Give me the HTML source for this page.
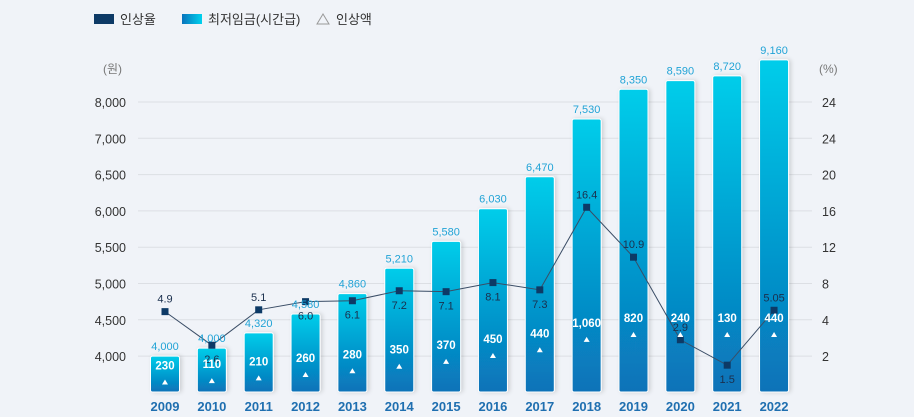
<!DOCTYPE html>
<html><head><meta charset="utf-8"><style>
body{margin:0;background:#f0f3f8;}
svg{display:block;font-family:"Liberation Sans","Noto Sans CJK KR",sans-serif;}
</style></head><body>
<svg id="c" width="914" height="417" viewBox="0 0 914 417">
<defs>
<linearGradient id="bg" x1="0" y1="0" x2="0" y2="1"><stop offset="0" stop-color="#00cdea"/><stop offset="1" stop-color="#0872b8"/></linearGradient>
<linearGradient id="lg" x1="0" y1="0" x2="1" y2="0"><stop offset="0" stop-color="#0873bc"/><stop offset="1" stop-color="#00d2ee"/></linearGradient>
<filter id="sh" x="-30%" y="-10%" width="160%" height="120%"><feDropShadow dx="2" dy="0" stdDeviation="2" flood-color="#000" flood-opacity="0.15"/></filter>
</defs>
<g>
<rect x="94" y="14" width="20" height="10" fill="#0d3a66"/>
<text x="120" y="24" font-size="13" fill="#333">인상율</text>
<rect x="182" y="14" width="20" height="10" fill="url(#lg)"/>
<text x="208" y="24" font-size="13" fill="#333">최저임금(시간급)</text>
<polygon points="323,14 317,24 329,24" fill="none" stroke="#999"/>
<text x="336" y="24" font-size="13" fill="#333">인상액</text>
</g>
<text x="103" y="73" font-size="12" fill="#777">(원)</text>
<text x="819" y="73" font-size="12" fill="#777">(%)</text>
<g id="grid"></g><g id="bars"></g><g id="line"></g><g id="labels"></g>
</svg>
<script>
const years=['2009','2010','2011','2012','2013','2014','2015','2016','2017','2018','2019','2020','2021','2022'];
const wages=[4000,4110,4320,4580,4860,5210,5580,6030,6470,7530,8350,8590,8720,9160];
const wageLabels=['4,000','4,000','4,320','4,580','4,860','5,210','5,580','6,030','6,470','7,530','8,350','8,590','8,720','9,160'];
const increases=[230,110,210,260,280,350,370,450,440,1060,820,240,130,440];
const rates=[4.9,2.6,5.1,6.0,6.1,7.2,7.1,8.1,7.3,16.4,10.9,2.9,1.5,5.05];
const rateLabels=['4.9','2.6','5.1','6.0','6.1','7.2','7.1','8.1','7.3','16.4','10.9','2.9','1.5','5.05'];
const leftTicks=[8000,7000,6500,6000,5500,5000,4500,4000];
const leftTickLabels=['8,000','7,000','6,500','6,000','5,500','5,000','4,500','4,000'];
const rightTicks=[24,24,20,16,12,8,4,2];
const rightTickLabels=['24','24','20','16','12','8','4','2'];
const NS='http://www.w3.org/2000/svg';
function mk(t,a,p,txt){const e=document.createElementNS(NS,t);for(const k in a)e.setAttribute(k,a[k]);if(txt!==undefined)e.textContent=txt;document.getElementById(p).appendChild(e);return e;}
const base=392;
const rowY=i=>102+i*36.3;
function piece(ticks,v){
 const n=ticks.length;
 if(v<=ticks[n-1]){const s=(rowY(n-1)-rowY(n-2))/(ticks[n-2]-ticks[n-1]);return rowY(n-1)+(ticks[n-1]-v)*s;}
 for(let i=n-1;i>0;i--){const hi=ticks[i-1],lo=ticks[i];
  if(v<=hi&&hi>lo){return rowY(i)-(v-lo)/(hi-lo)*(rowY(i)-rowY(i-1));}}
 const s=(rowY(1)-rowY(0))/(ticks[0]-ticks[1]);return rowY(0)-(v-ticks[0])*s;
}
const barTop=v=>Math.min(base-8,piece(leftTicks,v));
const rateY=v=>piece(rightTicks,v);
const xc=i=>165+i*46.85;
const fmt=v=>v.toLocaleString('en-US');
leftTicks.forEach((v,i)=>{
 const y=rowY(i);
 const l=mk('line',{x1:138,x2:812,y1:y,y2:y,stroke:'#dcdfe4'},'grid');
 
 
 const t=mk('text',{x:126,y:y+5,'text-anchor':'end','font-size':12.5,fill:'#333'},'grid',leftTickLabels[i]);
 
 
 const r=mk('text',{x:822,y:y+5,'font-size':12.5,fill:'#333'},'grid',rightTickLabels[i]);
 
 
});
years.forEach((yr,i)=>{
 const x=xc(i),top=barTop(wages[i]),h=base-top;
 const b=mk('rect',{x:x-14.5,y:top,width:29,height:h,rx:2,fill:'url(#bg)',stroke:'#fff','stroke-width':1,filter:'url(#sh)'},'bars');
 
 
 const w=mk('text',{x:x,y:top-6,'text-anchor':'middle','font-size':11,fill:'#21a3d6'},'labels',wageLabels[i]);
 
 
 const ly=Math.max(base-16-0.18*h,322);
 const inc=mk('text',{x:x,y:ly,'text-anchor':'middle','font-size':11.5,'font-weight':'bold',fill:'#fff'},'labels',fmt(increases[i]));
 
 
 const tr=mk('polygon',{points:`${x},${ly+10} ${x-3},${ly+15} ${x+3},${ly+15}`,fill:'#fff'},'labels');
 
 
 const yl=mk('text',{x:x,y:411,'text-anchor':'middle','font-size':13,'font-weight':'bold',fill:'#1f6fb0'},'labels',yr);
 
 
});
const pts=rates.map((r,i)=>xc(i)+','+rateY(r)).join(' ');
const pl=mk('polyline',{points:pts,fill:'none',stroke:'#3a4d66','stroke-width':1},'line');


rates.forEach((r,i)=>{
 const x=xc(i),y=rateY(r);
 const m=mk('rect',{x:x-3.5,y:y-3.5,width:7,height:7,fill:'#0d3a66'},'line');
 
 
 const above=(i===0||i===2||i===9||i===10||i===11||i===13);
 const t=mk('text',{x:x,y:above?y-9:y+18,'text-anchor':'middle','font-size':11,fill:'#1a2f4d'},'line',rateLabels[i]);
 
 
});
</script>
</body></html>
